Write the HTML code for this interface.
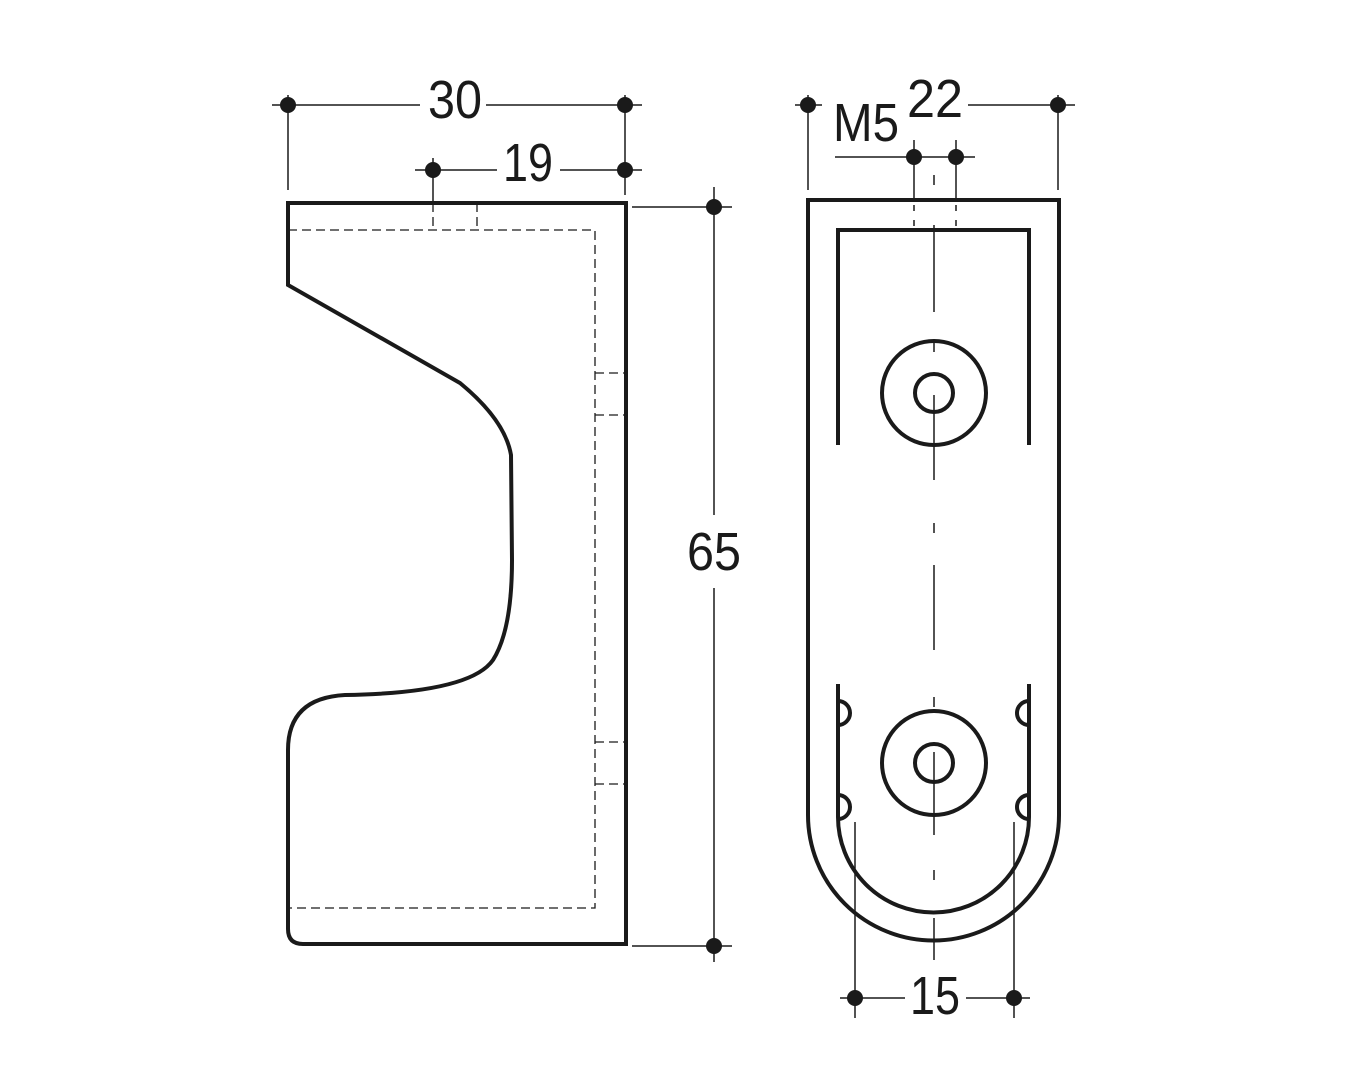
<!DOCTYPE html>
<html><head><style>html,body{margin:0;padding:0;background:#fff}svg{display:block}</style></head><body>
<svg width="1348" height="1080" viewBox="0 0 1348 1080" xmlns="http://www.w3.org/2000/svg">
<g fill="none" stroke="#1a1a1a">
<!-- left view -->
<path d="M288,203 H626 V944 H303 Q288,944 288,929 V750 Q288,698 345,695 Q470,693 493,660 Q512,630 512,560 L511,455 Q505,420 460,383 L288,285 Z" stroke-width="4"/>
<g stroke-width="1.3" stroke-dasharray="9,5">
<path d="M288,230 H595 V908 H288"/>
<path d="M595,373 H626 M595,415 H626 M595,742 H626 M595,784 H626"/>
<path d="M433,203 V230 M477,203 V230"/>
</g>
<g stroke-width="1.5">
<path d="M272,105 H420 M486,105 H642"/>
<path d="M288,95 V190 M625,95 V195"/>
<path d="M415,170 H497 M560,170 H642"/>
<path d="M433,158 V203"/>
<path d="M714,187 V515 M714,588 V962"/>
<path d="M632,207 H732 M632,946 H732"/>
</g>
<!-- right view -->
<path d="M808,200 H1059 V815 A125.5,125.5 0 0 1 808,815 Z" stroke-width="4"/>
<path d="M838,445 V230 H1029 V445" stroke-width="4"/>
<path d="M838,684 V817 A95.5,95.5 0 0 0 1029,817 V684" stroke-width="4"/>
<circle cx="934" cy="393" r="52" stroke-width="4"/>
<circle cx="934" cy="393" r="19" stroke-width="4"/>
<circle cx="934" cy="763" r="52" stroke-width="4"/>
<circle cx="934" cy="763" r="19" stroke-width="4"/>
<path d="M838,701 A12,12 0 0 1 838,725 M838,795 A12,12 0 0 1 838,819 M1029,701 A12,12 0 0 0 1029,725 M1029,795 A12,12 0 0 0 1029,819" stroke-width="4"/>
<g stroke-width="1.5">
<path d="M934,175 V185 M934,225 V312 M934,342 V352 M934,395 V480 M934,523 V533 M934,565 V650 M934,697 V707 M934,752 V835 M934,870 V880 M934,918 V960"/>
<path d="M795,105 H822 M968,105 H1075"/>
<path d="M808,95 V190 M1058,95 V190"/>
<path d="M835,157 H975"/>
<path d="M914,140 V200 M956,140 V200"/>
<path d="M914,205 V215 M914,220 V230 M956,205 V215 M956,220 V230" stroke-dasharray="6,4"/>
<path d="M840,998 H905 M966,998 H1030"/>
<path d="M855,822 V1018 M1014,822 V1018"/>
</g>
</g>
<g fill="#1a1a1a">
<circle cx="288" cy="105" r="8"/><circle cx="625" cy="105" r="8"/>
<circle cx="433" cy="170" r="8"/><circle cx="625" cy="170" r="8"/>
<circle cx="714" cy="207" r="8"/><circle cx="714" cy="946" r="8"/>
<circle cx="808" cy="105" r="8"/><circle cx="1058" cy="105" r="8"/>
<circle cx="914" cy="157" r="8"/><circle cx="956" cy="157" r="8"/>
<circle cx="855" cy="998" r="8"/><circle cx="1014" cy="998" r="8"/>
</g>
<g font-family="'Liberation Sans Narrow','Liberation Sans',sans-serif" font-size="54" fill="#1a1a1a" text-anchor="middle">
<text x="455" y="118" textLength="54" lengthAdjust="spacingAndGlyphs">30</text>
<text x="528" y="181" textLength="50" lengthAdjust="spacingAndGlyphs">19</text>
<text x="714" y="570" textLength="54" lengthAdjust="spacingAndGlyphs">65</text>
<text x="935" y="117" textLength="56" lengthAdjust="spacingAndGlyphs">22</text>
<text x="866" y="141" textLength="66" lengthAdjust="spacingAndGlyphs">M5</text>
<text x="935" y="1014" textLength="50" lengthAdjust="spacingAndGlyphs">15</text>
</g>
</svg>
</body></html>
